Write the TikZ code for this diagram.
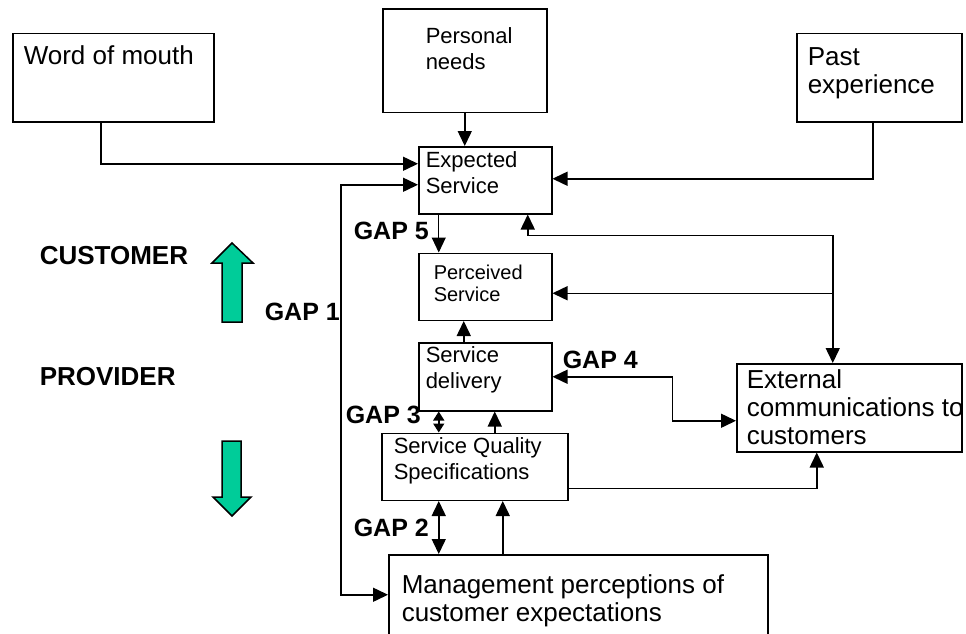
\documentclass[tikz,border=0pt]{standalone}
\usepackage{fontspec}
\setmainfont{Liberation Sans}
\usetikzlibrary{arrows.meta,positioning}
\definecolor{gapgreen}{RGB}{0,204,153}

\begin{document}
\begin{tikzpicture}[x=1pt,y=-1pt,line width=1.5pt,>={Triangle[length=15pt,width=14pt]},
                    line join=miter]

  \tikzstyle{box}=[draw,rectangle,inner sep=0pt]
  \tikzstyle{txt}=[anchor=north west,inner sep=0pt,align=left]
  \tikzstyle{t20}=[txt,font=\fontsize{20}{22}\selectfont]
  \tikzstyle{t22}=[txt,font=\fontsize{22}{26}\selectfont]
  \tikzstyle{t26}=[txt,font=\fontsize{26}{28}\selectfont]
  \tikzstyle{gap}=[anchor=base west,inner sep=0pt,font=\fontsize{25}{28}\selectfont\bfseries]
  \tikzstyle{side}=[anchor=base west,inner sep=0pt,font=\fontsize{26}{28}\selectfont\bfseries]
  \tikzstyle{smallhead}=[arrows={Triangle[length=9pt,width=11pt]-Triangle[length=9pt,width=11pt]}]

  \useasboundingbox (0,0) rectangle (966,634);
  \clip (0,0) rectangle (966,634);

  \node[box,anchor=north west,minimum width=133pt,minimum height=67pt] (exp) at (418,146) {};
  \node[box,minimum width=133pt,minimum height=67pt] (perc) [below=38pt of exp] {};
  \node[box,minimum width=133pt,minimum height=68pt] (deliv) [below=21pt of perc] {};
  \node[box,minimum width=186pt,minimum height=67pt] (sqs) [below=21pt of deliv,xshift=-10.5pt] {};
  \node[box,minimum width=379pt,minimum height=100pt] (mgmt) [below=53pt of sqs,xshift=103.5pt] {};
  \node[box,minimum width=164pt,minimum height=103pt] (pers) [above=33pt of exp,xshift=-20.5pt] {};
  \node[box,anchor=north west,minimum width=201pt,minimum height=88pt] (wom) at (12,33) {};
  \node[box,anchor=north west,minimum width=165pt,minimum height=88pt] (past) at (796,33) {};
  \node[box,anchor=north west,minimum width=225pt,minimum height=88pt] (ext) at (736,363) {};

  \node[t26] (womtxt) at ([xshift=11pt,yshift=-12pt]wom.north west) {Word of mouth};
  \node[t22] (perstxt) at ([xshift=43pt,yshift=-18pt]pers.north west) {Personal\\needs};
  \node[t26] (pasttxt) at ([xshift=11pt,yshift=-14pt]past.north west) {Past\\experience};
  \node[t22] (exptxt) at ([xshift=7pt,yshift=-5pt]exp.north west) {Expected\\Service};
  \node[t20] (perctxt) at ([xshift=15pt,yshift=-12pt]perc.north west) {Perceived\\Service};
  \node[t22] (delivtxt) at ([xshift=7pt,yshift=-4pt]deliv.north west) {Service\\delivery};
  \node[t22] (sqstxt) at ([xshift=12pt,yshift=-4pt]sqs.north west) {Service Quality\\Specifications};
  \node[t26] (exttxt) at ([xshift=10pt,yshift=-6pt]ext.north west) {External\\communications to\\customers};
  \node[t26] (mgmttxt) at ([xshift=13pt,yshift=-20pt]mgmt.north west) {Management perceptions of\\customer expectations};

  \node[side] (cust) at (39,264) {CUSTOMER};
  \node[side] (prov) at (39,385) {PROVIDER};
  \node[gap] (gap1) at (264,320) {GAP 1};
  \node[gap] (gap2) at (353,536) {GAP 2};
  \node[gap] (gap3) at (345,423) {GAP 3};
  \node[gap] (gap4) at (562,368) {GAP 4};
  \node[gap] (gap5) at (353,239) {GAP 5};

  \filldraw[fill=gapgreen] (232,243) -- (253,263) -- (242,263) -- (242,322) -- (222,322)
    -- (222,263) -- (212,263) -- cycle;
  \filldraw[fill=gapgreen] (222,441) -- (241,441) -- (241,497) -- (251,497) -- (232,516)
    -- (213,497) -- (222,497) -- cycle;

  \draw[->] ([xshift=-12.5pt]wom.south) |- ([yshift=16.5pt]exp.west);
  \draw[->] (pers.south) -- (pers.south |- exp.north);
  \draw[->] ([xshift=-6.5pt]past.south) |- ([yshift=1.5pt]exp.east);
  \draw[<->] ([yshift=-4.5pt]exp.west) -- ++(-77,0) |- ([yshift=10pt]mgmt.west);
  \draw[->,line width=1pt] ([xshift=-46.5pt]exp.south) -- ([xshift=-46.5pt]perc.north);
  \draw[<->] ([xshift=42.5pt]exp.south) -- ++(0,21) -| ([xshift=-16.5pt]ext.north);
  \draw[<-] ([yshift=-6.5pt]perc.east) -- ++(281,0);
  \draw[->] ([xshift=-21.5pt]deliv.north) -- ([xshift=-21.5pt]perc.south);
  \draw[<->] (deliv.east) -- ++(120,0) |- ([yshift=-13pt]ext.west);
  \draw[smallhead] ([xshift=-36pt]sqs.north) -- ([xshift=-46.5pt]deliv.south);
  \draw[->] ([xshift=20pt]sqs.north) -- ([xshift=9.5pt]deliv.south);
  \draw[->] ([yshift=-21.5pt]sqs.east) -| ([xshift=-32.5pt]ext.south);
  \draw[<->] ([xshift=-36pt]sqs.south) -- ([xshift=-139.5pt]mgmt.north);
  \draw[->] ([xshift=-75.5pt]mgmt.north) -- ([xshift=28pt]sqs.south);
\end{tikzpicture}
\end{document}
